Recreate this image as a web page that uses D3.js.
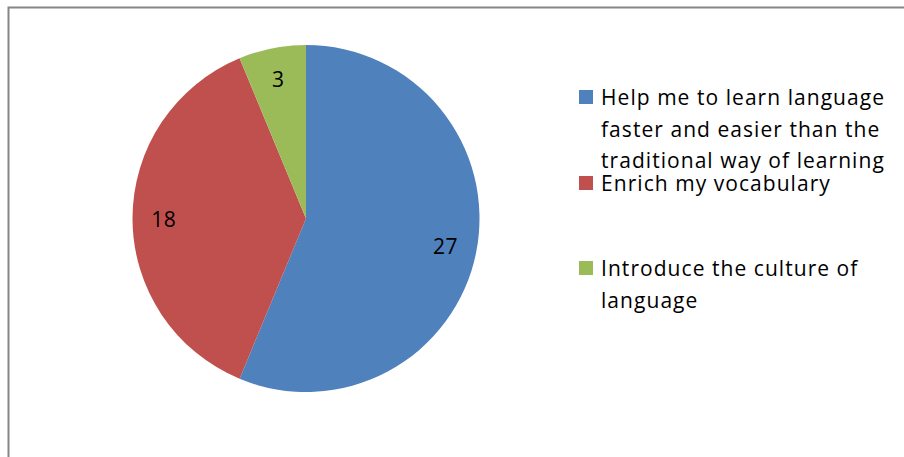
<!DOCTYPE html>
<html>
<head>
<meta charset="utf-8">
<script src="https://cdn.jsdelivr.net/npm/d3@7"></script>
<style>
  html, body { margin: 0; padding: 0; background: #fff; overflow: hidden; }
  svg { display: block; }
  text { font-family: "Open Sans", Lato, sans-serif; fill: #000; }
</style>
</head>
<body>
<svg id="chart" width="904" height="457"></svg>
<script>
// Survey answers and their counts
const categories = [
  "Help me to learn language faster and easier than the traditional way of learning",
  "Enrich my vocabulary",
  "Introduce the culture of language"
];
const legendLines = [
  ["Help me to learn language", "faster and easier than the", "traditional way of learning"],
  ["Enrich my vocabulary"],
  ["Introduce the culture of", "language"]
];
const values = [27, 18, 3];
const colors = ["#4F81BD", "#C0504D", "#9BBB59"];

const svg = d3.select("#chart");
const W = 904, H = 457;

// Chart area frame
svg.append("rect")
  .attr("x", 8.5).attr("y", 7.5)
  .attr("width", W + 10).attr("height", H + 10)
  .attr("fill", "#fff")
  .attr("stroke", "#868686")
  .attr("stroke-width", 2);

const cx = 306, cy = 218.5, r = 173.5;

const pie = d3.pie().sort(null).value(d => d)
  .startAngle(0).endAngle(2 * Math.PI);
const arcs = pie(values);

const arc = d3.arc().innerRadius(0).outerRadius(r);
const labelArc = d3.arc().innerRadius(r * 0.82).outerRadius(r * 0.82);

const g = svg.append("g").attr("transform", `translate(${cx},${cy})`);

g.selectAll("path.slice")
  .data(arcs)
  .join("path")
  .attr("class", "slice")
  .attr("d", arc)
  .attr("fill", (d, i) => colors[i]);

g.selectAll("text.value")
  .data(arcs)
  .join("text")
  .attr("class", "value")
  .attr("transform", d => `translate(${labelArc.centroid(d)})`)
  .attr("text-anchor", "middle")
  .attr("dominant-baseline", "central")
  .style("font-size", "21px")
  .style("letter-spacing", "0.5px")
  .text(d => d.value);

// Legend
const legendX = 579, textX = 601;
const legendTops = [97, 183, 268];
const lineH = 31.5;

const lg = svg.append("g");
categories.forEach((c, i) => {
  lg.append("rect")
    .attr("x", legendX).attr("y", legendTops[i] - 7)
    .attr("width", 14).attr("height", 14)
    .attr("fill", colors[i]);
  const t = lg.append("text")
    .attr("x", textX)
    .style("font-size", "21px")
    .style("letter-spacing", "1.05px");
  legendLines[i].forEach((line, j) => {
    t.append("tspan")
      .attr("x", textX)
      .attr("y", legendTops[i] + j * lineH)
      .attr("dominant-baseline", "central")
      .text(line);
  });
});
</script>
</body>
</html>
